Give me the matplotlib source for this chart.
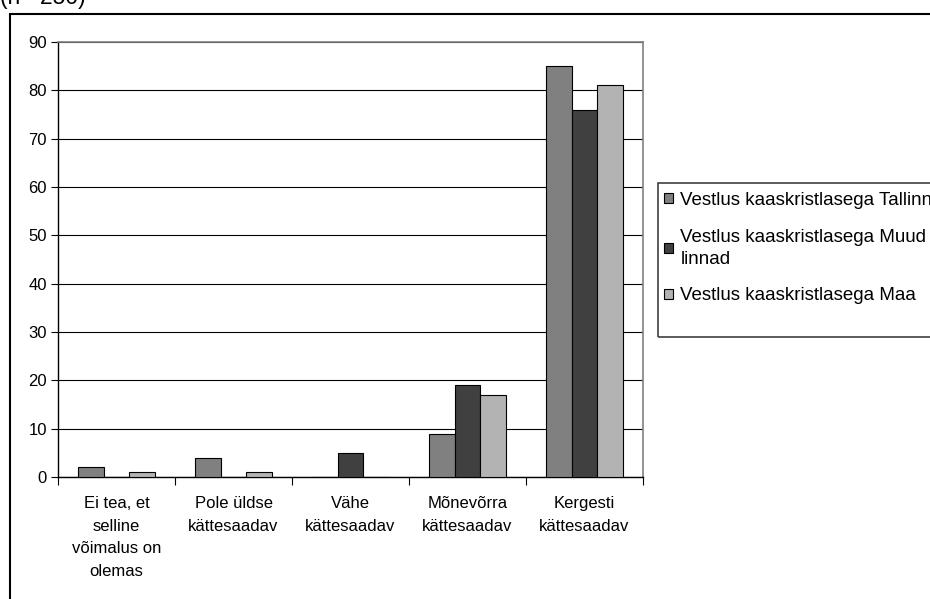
import numpy as np
import matplotlib.pyplot as plt
from matplotlib.patches import Rectangle

plt.rcParams['font.family'] = ['Liberation Sans', 'DejaVu Sans']

categories = ['Ei tea, et\nselline\nvõimalus on\nolemas', 'Pole üldse\nkättesaadav',
              'Vähe\nkättesaadav', 'Mõnevõrra\nkättesaadav', 'Kergesti\nkättesaadav']
series = ['Vestlus kaaskristlasega Tallinn', 'Vestlus kaaskristlasega Muud\nlinnad',
          'Vestlus kaaskristlasega Maa']
tallinn = [2, 4, 0, 9, 85]
muud = [0, 0, 5, 19, 76]
maa = [1, 1, 0, 17, 81]
colors = ['#808080', '#404040', '#b3b3b3']

fig = plt.figure(figsize=(9.3, 5.99), dpi=100)
ax = fig.add_axes([58/930, 1 - 477/599, (643 - 58)/930, (477 - 42)/599])

# outer chart frame (cut off at right and bottom)
fig.patches.append(Rectangle((10/930, -0.1), 1.2, 0.1 + 1 - 14/599, transform=fig.transFigure,
                             fill=False, edgecolor='black', linewidth=1.5, zorder=0))
fig.text(0.0, 1 - 4/599, '(n= 250)', fontsize=16.5, va='baseline', ha='left')

x = np.arange(len(categories))
w = 0.222
for i, vals in enumerate([tallinn, muud, maa]):
    ax.bar(x + (i - 1) * w, vals, w, color=colors[i], edgecolor='black', linewidth=0.8,
           label=series[i], zorder=3)

ax.set_xlim(-0.5, len(categories) - 0.5)
ax.set_ylim(0, 90)
ax.set_yticks(range(0, 91, 10))
ax.yaxis.grid(True, color='black', linewidth=0.8, zorder=0)
ax.set_axisbelow(True)

ax.set_xticks(x)
ax.set_xticklabels(categories, fontsize=12, linespacing=1.62)
ax.tick_params(axis='x', length=0, pad=14)
ax.set_xticks(np.arange(-0.5, len(categories), 1), minor=True)
ax.tick_params(axis='x', which='minor', length=6, width=0.8, direction='out')
ax.tick_params(axis='y', length=5, width=0.8, direction='out', labelsize=12, pad=3)

for s in ['left', 'bottom']:
    ax.spines[s].set_color('black')
    ax.spines[s].set_linewidth(1)
ax.spines['right'].set_color('#808080')
ax.spines['top'].set_color('#808080')
ax.spines['right'].set_linewidth(1.2)
ax.spines['top'].set_linewidth(1.2)

# legend box (runs past the right edge)
fig.patches.append(Rectangle((658/930, 1 - 337/599), 0.5, 154/599, transform=fig.transFigure,
                             fill=False, edgecolor='#404040', linewidth=1.2, zorder=1))
leg = ax.legend(loc='upper left', bbox_to_anchor=(662/930, 1 - 190/599),
                bbox_transform=fig.transFigure, fontsize=13.5, frameon=False,
                handlelength=0.48, handleheight=0.48, handletextpad=0.4,
                labelspacing=1.05, borderpad=0.1, borderaxespad=0)
leg.get_texts()[1].set_linespacing(1.4)

fig.savefig('out.png', dpi=100)
